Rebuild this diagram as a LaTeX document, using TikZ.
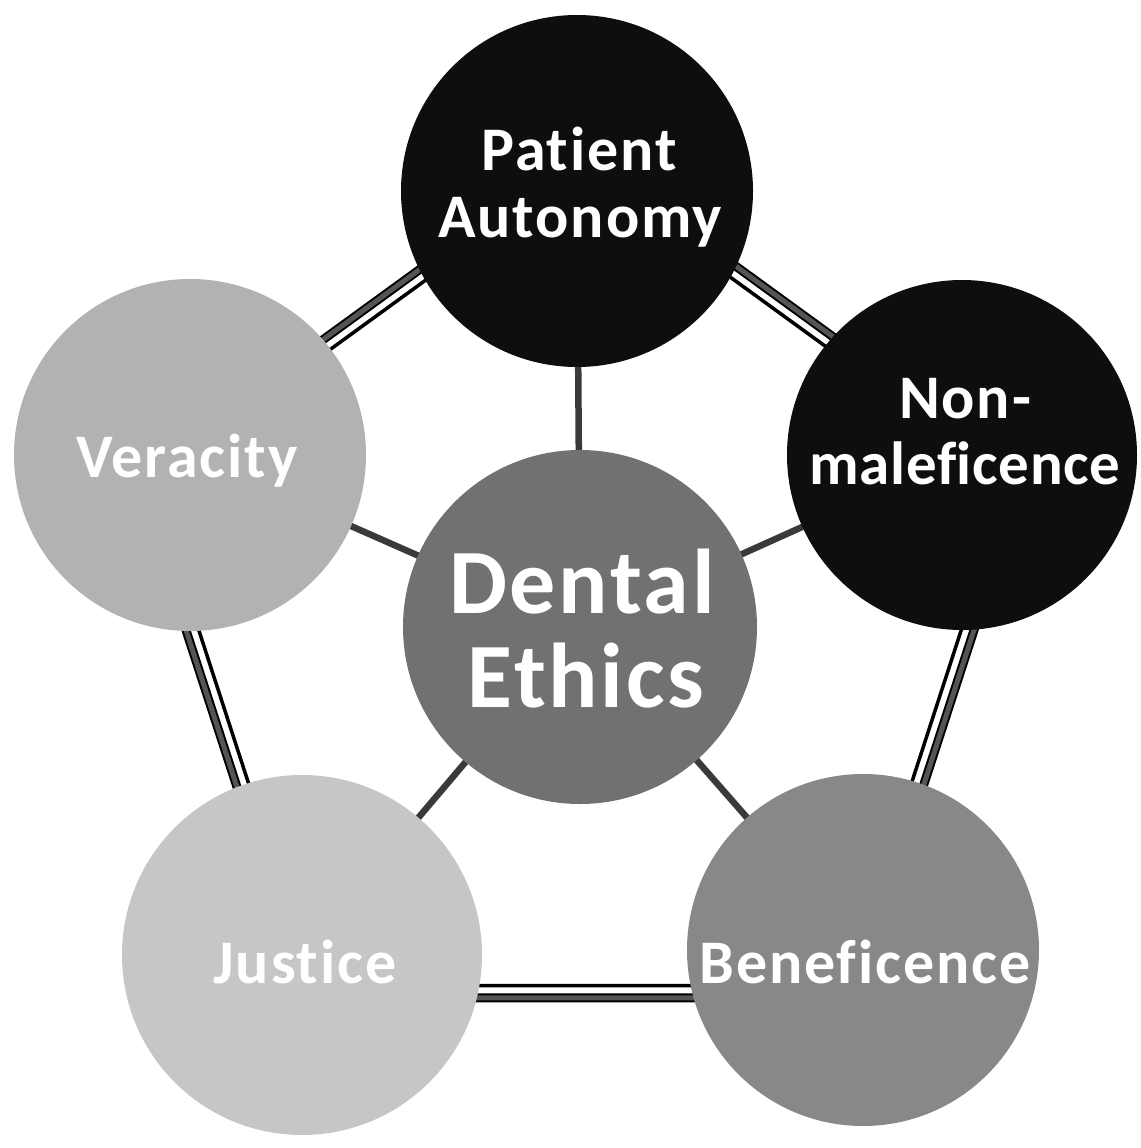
\documentclass[tikz,border=0pt]{standalone}
\usepackage{fontspec}
\setmainfont{Carlito}
\newfontfamily\lblfont{Carlito}[LetterSpace=3,RawFeature={-liga}]
\newfontfamily\lblfontnarrow{Carlito}[LetterSpace=1,RawFeature={-liga}]
\usetikzlibrary{calc}
\definecolor{cdark}{HTML}{0E0E0E}
\definecolor{cmid}{HTML}{717171}
\definecolor{cbene}{HTML}{888888}
\definecolor{cvera}{HTML}{B2B2B2}
\definecolor{cjust}{HTML}{C6C6C6}
\definecolor{spokegray}{HTML}{3A3A3A}
\definecolor{rimgray}{HTML}{555555}
\begin{document}
\begin{tikzpicture}[x=1pt,y=-1pt,
  ball/.style={circle, minimum size=#1, inner sep=0pt, draw=none},
  lbl/.style={text=white, font=\lblfont\bfseries\fontsize{62}{62}\selectfont, anchor=base, inner sep=0pt},
  lblnarrow/.style={text=white, font=\lblfontnarrow\bfseries\fontsize{61}{61}\selectfont, anchor=base, inner sep=0pt},
  biglbl/.style={text=white, font=\lblfont\bfseries\fontsize{92}{92}\selectfont, anchor=base, inner sep=0pt},
  spoke/.style={draw=spokegray, line width=6.5pt},
  rimouter/.style={draw=black, line width=9pt, line cap=butt},
  riminner/.style={draw=rimgray, line width=5pt, line cap=butt},
  rimthin/.style={draw=black, line width=3.5pt, line cap=butt}]
\useasboundingbox (0,0) rectangle (1140,1148);

% pentagon ring (thick band and thin inner line)
\coordinate (ta) at (580,153);
\coordinate (tb) at (1024.2,475.7);
\coordinate (tc) at (854.5,997.8);
\coordinate (td) at (305.5,997.8);
\coordinate (te) at (135.8,475.7);
\coordinate (sa) at (580,168);
\coordinate (sb) at (1009.9,480.3);
\coordinate (sc) at (845.7,985.7);
\coordinate (sd) at (314.3,985.7);
\coordinate (se) at (150.1,480.3);
\draw[rimouter] (ta) -- (tb) -- (tc) -- (td) -- (te) -- cycle;
\draw[riminner] (ta) -- (tb) -- (tc) -- (td) -- (te) -- cycle;
\draw[rimthin] (sa) -- (sb) -- (sc) -- (sd) -- (se) -- cycle;

% circle centres
\coordinate (cP) at (577,191);
\coordinate (cN) at (962,455);
\coordinate (cV) at (190,455);
\coordinate (cD) at (580,627);
\coordinate (cJ) at (302,955);
\coordinate (cB) at (863,950);

% spokes
\draw[spoke] (cD) -- (cP);
\draw[spoke] (cD) -- (cN);
\draw[spoke] (cD) -- (cV);
\draw[spoke] (cD) -- (cJ);
\draw[spoke] (cD) -- (cB);

% circles
\node[ball=352pt, fill=cdark] (P) at (cP) {};
\node[ball=350pt, fill=cdark] (N) at (cN) {};
\node[ball=352pt, fill=cvera] (V) at (cV) {};
\node[ball=354pt, fill=cmid] (D) at (cD) {};
\node[ball=360pt, fill=cjust] (J) at (cJ) {};
\node[ball=352pt, fill=cbene] (B) at (cB) {};

% labels
\node[lbl] (P1) at (579,170) {Patient};
\node[lbl] (P2) at (580,237) {Autonomy};
\node[lbl] (N1) at (965,418) {Non-};
\node[lblnarrow] (N2) at (965,484) {maleficence};
\node[biglbl] (D1) at (582,613) {Dental};
\node[biglbl] (D2) at (586,707) {Ethics};
\node[lbl] (V1) at (187,477) {Veracity};
\node[lbl] (J1) at (305,983) {Justice};
\node[lbl] (B1) at (865,983) {Beneficence};
\end{tikzpicture}
\end{document}
